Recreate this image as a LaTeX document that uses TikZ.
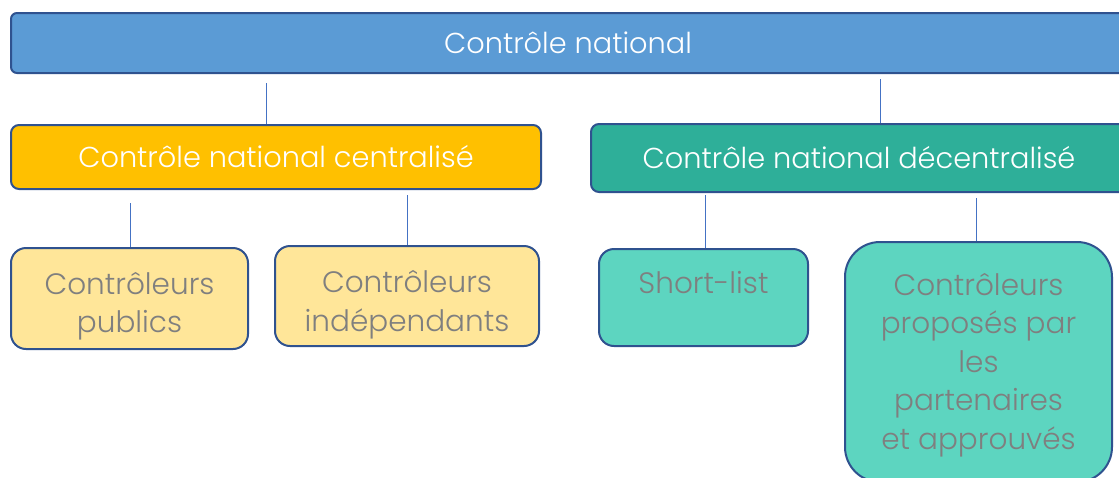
\documentclass[tikz,border=0pt]{standalone}
\usepackage{fontspec}
\setmainfont{Poppins}[UprightFont=* Light]
\usepackage{tikz}

\definecolor{nationalBlue}{HTML}{5B9BD5}
\definecolor{edgeBlue}{HTML}{2F528F}
\definecolor{linkBlue}{HTML}{4472C4}
\definecolor{centralOrange}{HTML}{FFC000}
\definecolor{centralLight}{HTML}{FFE699}
\definecolor{decentralTeal}{HTML}{2EAF99}
\definecolor{decentralLight}{HTML}{5DD5C0}
\definecolor{leafGray}{HTML}{7F7F7F}

\begin{document}
\begin{tikzpicture}[
    x=1pt, y=-1pt,
    box/.style={draw=edgeBlue, line width=2pt, inner sep=0pt, align=center},
    headbox/.style={box, text=white, font=\fontsize{28.8}{33}\selectfont},
    leafbox/.style={box, text=leafGray, font=\fontsize{29.5}{38.5}\selectfont},
    link/.style={linkBlue, line width=1pt}
]

% Page frame, the right and bottom boxes run past it
\useasboundingbox (0,0) rectangle (1119,477);
\clip (0,0) rectangle (1119,477);

% ==========================================
% Niveau 1
\node[headbox, fill=nationalBlue, rounded corners=6pt,
      minimum width=1114pt, minimum height=60pt] (nat) at (568,43) {Contrôle national};

% ==========================================
% Niveau 2
\node[headbox, fill=centralOrange, rounded corners=8pt,
      minimum width=530pt, minimum height=64pt] (cent) at (276,157) {Contrôle national centralisé};
\node[headbox, fill=decentralTeal, rounded corners=8pt,
      minimum width=536pt, minimum height=68pt] (decent) at (859,158) {Contrôle national décentralisé};

% ==========================================
% Niveau 3 (la règle invisible descend le texte)
\node[leafbox, fill=centralLight, rounded corners=15pt,
      minimum width=237pt, minimum height=101pt] (pub) at (129.5,298.5)
      {\rule{0pt}{38pt}Contrôleurs\\publics};
\node[leafbox, fill=centralLight, rounded corners=15pt,
      minimum width=264pt, minimum height=100pt] (indep) at (407,296)
      {\rule{0pt}{40pt}Contrôleurs\\indépendants};
\node[leafbox, fill=decentralLight, rounded corners=15pt,
      minimum width=209pt, minimum height=97pt] (short) at (703.5,297.5)
      {\rule{0pt}{31pt}Short-list\\~};
\node[leafbox, fill=decentralLight, rounded corners=35pt,
      minimum width=267pt, minimum height=240pt] (partn) at (978.5,362)
      {\rule{0pt}{28pt}Contrôleurs\\proposés par\\les\\partenaires\\et approuvés};

% Traits de liaison (ils ne touchent pas la boîte du dessus)
\coordinate (l1) at (266,83);
\coordinate (l2) at (880,79);
\coordinate (l3) at (130,203);
\coordinate (l4) at (407,195);
\coordinate (l5) at (705,195);
\coordinate (l6) at (976,198);

\draw[link] (l1) -- (l1 |- cent.north);
\draw[link] (l2) -- (l2 |- decent.north);
\draw[link] (l3) -- (l3 |- pub.north);
\draw[link] (l4) -- (l4 |- indep.north);
\draw[link] (l5) -- (l5 |- short.north);
\draw[link] (l6) -- (l6 |- partn.north);

\end{tikzpicture}
\end{document}
